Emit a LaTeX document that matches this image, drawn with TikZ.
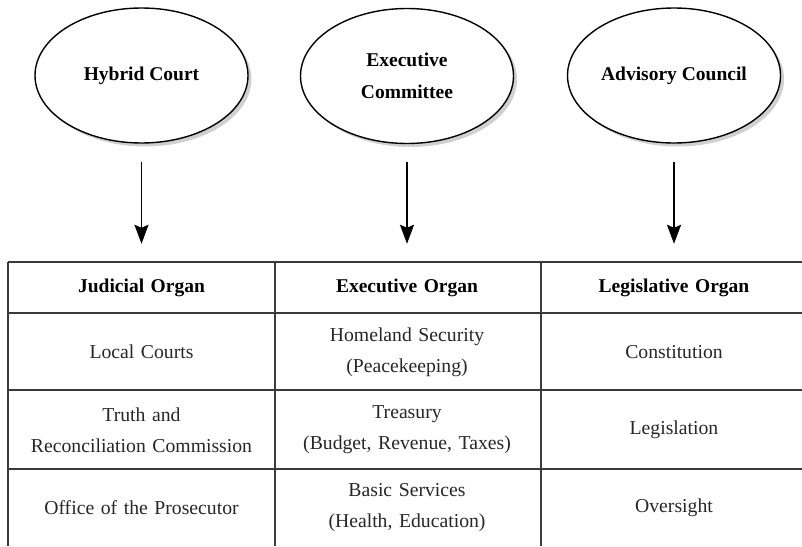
\documentclass[tikz,border=0pt]{standalone}
\usepackage{fontspec}
\setmainfont{Liberation Serif}
\usetikzlibrary{arrows.meta,shapes.geometric,shadows}
\definecolor{gridc}{HTML}{3A3A3A}
\definecolor{shadowc}{HTML}{D0D0D0}
\tikzset{
  oval/.style={ellipse, draw=black, line width=1.4pt, fill=white, inner sep=0pt,
    minimum width=213pt, minimum height=135pt, align=center,
    font=\bfseries\fontsize{19.5}{32}\selectfont,
    drop shadow={shadow xshift=3.5pt, shadow yshift=-3.5pt, fill=shadowc, opacity=1}},
  head/.style={inner sep=0pt, minimum height=51pt, text width=255pt, align=center,
    font=\bfseries\fontsize{19.5}{31}\selectfont},
  cell/.style={inner sep=0pt, text width=255pt, align=center,
    font=\fontsize{19.7}{31}\selectfont, text=black!85},
  gridline/.style={draw=gridc, line width=1.2pt},
  arr/.style={line width=1.9pt, -{Stealth[length=19pt, width=14pt, inset=3pt]},
    shorten <=18pt, shorten >=18pt}
}
\begin{document}
\begin{tikzpicture}[x=1pt,y=-1pt]
\useasboundingbox (0,0) rectangle (802,546);
% ovals
\node[oval] (e1) at (141.5,75.5) {Hybrid Court};
\node[oval] (e2) at (407,76) {Executive\\Committee};
\node[oval] (e3) at (674,75.5) {Advisory Council};
% table grid
\foreach \yy in {262,313,390,469} \draw[gridline] (8,\yy) -- (802,\yy);
\foreach \xx in {8,275,541} \draw[gridline] (\xx,262) -- (\xx,546);
% headers
\node[head] (h1) at (141.5,287.5) {Judicial Organ};
\node[head] (h2) at (407,287.5) {Executive Organ};
\node[head] (h3) at (674,287.5) {Legislative Organ};
% cells
\node[cell] (c11) at (141.5,352) {Local Courts};
\node[cell] (c12) at (407,352) {Homeland Security\\(Peacekeeping)};
\node[cell] (c13) at (674,352) {Constitution};
\node[cell] (c21) at (141.5,430) {Truth and\\Reconciliation Commission};
\node[cell] (c22) at (407,430) {Treasury\\(Budget, Revenue, Taxes)};
\node[cell] (c23) at (674,430) {Legislation};
\node[cell] (c31) at (141.5,508) {Office of the Prosecutor};
\node[cell] (c32) at (407,508) {Basic Services\\(Health, Education)};
\node[cell] (c33) at (674,508) {Oversight};
% arrows
\draw[arr] (e1.south) -- (h1.north);
\draw[arr] (e2.south) -- (h2.north);
\draw[arr] (e3.south) -- (h3.north);
\end{tikzpicture}
\end{document}
